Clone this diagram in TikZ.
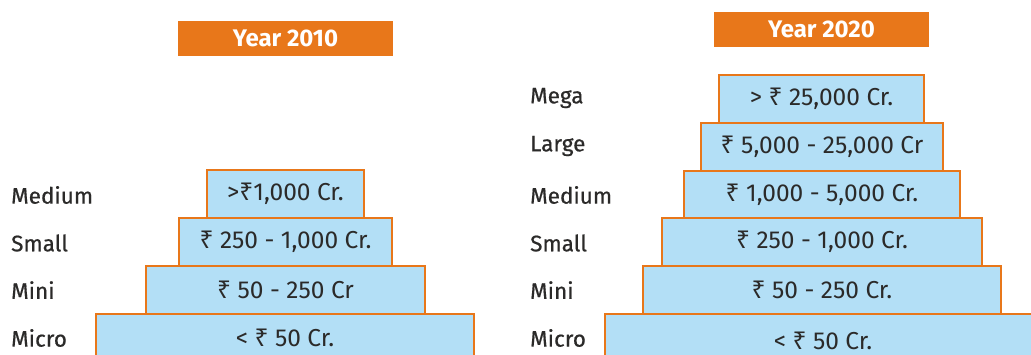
\documentclass[tikz,border=0pt]{standalone}
\usepackage{fontspec}
\setmainfont{Fira Sans}
\newfontfamily\rsfont{Noto Sans}
\newfontfamily\tierfont[FakeBold=0.6]{Fira Sans}
\newcommand{\Rs}{{\rsfont ₹}}
\definecolor{eyorange}{HTML}{E8771A}
\definecolor{tierblue}{HTML}{B3DFF6}
\definecolor{inkdark}{HTML}{2B2A29}
\tikzset{
  yearbox/.style={fill=eyorange, text=white, inner sep=0pt,
    minimum width=215pt, minimum height=35pt,
    font=\fontsize{24}{26}\selectfont\bfseries},
  tierbox/.style={fill=tierblue, draw=eyorange, line width=1.4pt, inner sep=0pt,
    text=inkdark, font=\fontsize{24.5}{27}\selectfont},
  tiertext/.style={inner sep=0pt, text=inkdark, font=\fontsize{24.5}{27}\selectfont},
  tierlabel/.style={anchor=west, inner sep=0pt, text=inkdark,
    font=\fontsize{22.5}{25}\tierfont}
}
\begin{document}
\begin{tikzpicture}[x=1pt, y=-1pt]
\useasboundingbox (0,0) rectangle (1031,355);
\clip (0,0) rectangle (1031,355);

% ---------- 2010 ----------
\node[yearbox] (y10) at (285.5,38.5) {Year 2010};

\node[tierbox, minimum width=378pt, minimum height=56pt] (a4) at (285,342) {};
\node[tiertext] (a4t) at (285,338) {< \Rs{} 50 Cr.};
\node[tierbox, minimum width=279pt, minimum height=48pt] (a3) at (285.5,290) {\Rs{} 50 - 250 Cr};
\node[tierbox, minimum width=213pt, minimum height=48pt] (a2) at (285.5,242) {\Rs{} 250 - 1,000 Cr.};
\node[tierbox, minimum width=157pt, minimum height=48pt] (a1) at (285.5,194) {>\Rs1,000 Cr.};

\node[tierlabel] (la1) at (11,195) {Medium};
\node[tierlabel] (la2) at (11,243) {Small};
\node[tierlabel] (la3) at (11,290) {Mini};
\node[tierlabel] (la4) at (11,338) {Micro};

% ---------- 2020 ----------
\node[yearbox] (y20) at (821.5,29.5) {Year 2020};

\node[tierbox, minimum width=436pt, minimum height=56pt] (b6) at (823,342) {};
\node[tiertext] (b6t) at (823,341) {< \Rs{} 50 Cr.};
\node[tierbox, minimum width=358pt, minimum height=48pt] (b5) at (822,290) {\Rs{} 50 - 250 Cr.};
\node[tierbox, minimum width=320pt, minimum height=48pt] (b4) at (822,242) {\Rs{} 250 - 1,000 Cr.};
\node[tierbox, minimum width=276pt, minimum height=47pt] (b3) at (822,194.5) {\Rs{} 1,000 - 5,000 Cr.};
\node[tierbox, minimum width=242pt, minimum height=48pt] (b2) at (822,147) {\Rs{} 5,000 - 25,000 Cr};
\node[tierbox, minimum width=205pt, minimum height=48pt] (b1) at (821.5,99) {> \Rs{} 25,000 Cr.};

\node[tierlabel] (lb1) at (530,98) {Mega};
\node[tierlabel] (lb2) at (530,146) {Large};
\node[tierlabel] (lb3) at (530,195) {Medium};
\node[tierlabel] (lb4) at (530,243) {Small};
\node[tierlabel] (lb5) at (530,290) {Mini};
\node[tierlabel] (lb6) at (530,338) {Micro};
\end{tikzpicture}
\end{document}
